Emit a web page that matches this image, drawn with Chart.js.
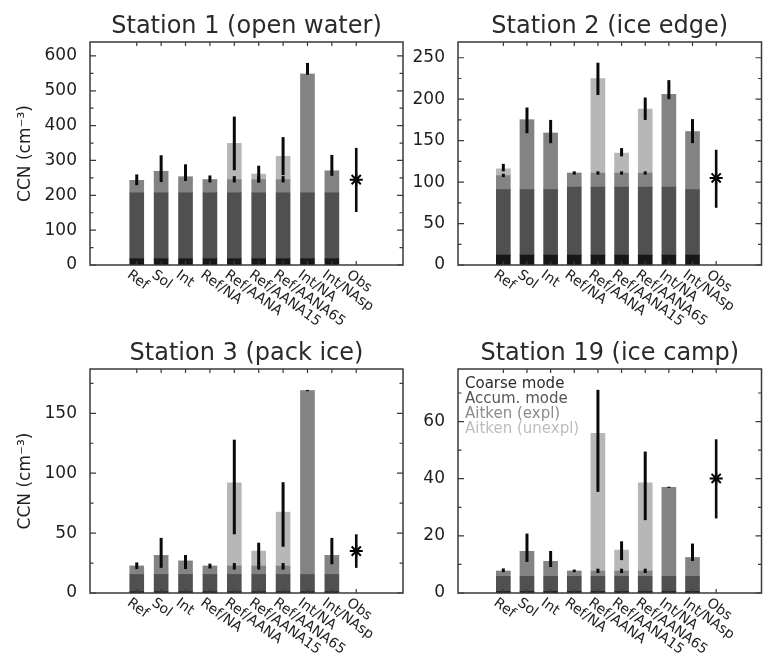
<!DOCTYPE html>
<html>
<head>
<meta charset="utf-8">
<title>CCN by station</title>
<script src="https://cdn.jsdelivr.net/npm/chart.js@4.4.1/dist/chart.umd.min.js"></script>
<style>
  body { margin: 0; background: #fff; }
  #wrap { position: relative; width: 770px; height: 658px; }
  #wrap canvas { position: absolute; left: 0; top: 0; }
</style>
</head>
<body>
<div id="wrap">
  <canvas id="st1" width="770" height="658"></canvas>
  <canvas id="st2" width="770" height="658"></canvas>
  <canvas id="st3" width="770" height="658"></canvas>
  <canvas id="st19" width="770" height="658"></canvas>
</div>
<script>
// categories along x, the last one is the observation
const categories = ['Ref', 'Sol', 'Int', 'Ref/NA', 'Ref/AANA', 'Ref/AANA15', 'Ref/AANA65', 'Int/NA', 'Int/NAsp', 'Obs'];
const modeNames = ['Coarse mode', 'Accum. mode', 'Aitken (expl)', 'Aitken (unexpl)'];

// Station 1 (open water) - segment heights, cm-3
const st1Coarse = [18, 18, 18, 18, 18, 18, 18, 18, 18];
const st1Accum = [189, 189, 189, 189, 189, 189, 189, 189, 189];
const st1AitkenExpl = [36, 62, 46, 38, 38, 38, 38, 341, 63];
const st1AitkenUnexpl = [0, 0, 0, 0, 104, 16, 67, 0, 0];
const st1ErrLow = [229, 238, 241, 237, 272, 237, 258, 546, 256];
const st1ErrHigh = [260, 315, 289, 257, 426, 285, 367, 580, 316];
const st1ExplErrLow = [null, null, null, null, 237, 237, 237, null, null];
const st1ExplErrHigh = [null, null, null, null, 255, 255, 255, null, null];
const st1Obs = 245;
const st1ObsRange = [152, 336];

// Station 2 (ice edge)
const st2Coarse = [12, 12, 12, 12, 12, 12, 12, 12, 12];
const st2Accum = [79, 79, 79, 82, 82, 82, 82, 82, 79];
const st2AitkenExpl = [17, 84, 68, 17, 17, 17, 17, 112, 70];
const st2AitkenUnexpl = [8, 0, 0, 0, 114, 24, 77, 0, 0];
const st2ErrLow = [113, 159, 147, 109, 205, 131, 175, 200, 147];
const st2ErrHigh = [122, 190, 175, 113, 244, 141, 202, 223, 176];
const st2ExplErrLow = [106, null, null, null, 109, 109, 109, null, null];
const st2ExplErrHigh = [110, null, null, null, 113, 113, 113, null, null];
const st2Obs = 105;
const st2ObsRange = [69, 139];

// Station 3 (pack ice)
const st3Coarse = [1, 1, 1, 1, 1, 1, 1, 1, 1];
const st3Accum = [14.5, 14.5, 14.5, 14.5, 14.5, 14.5, 14.5, 14.5, 14.5];
const st3AitkenExpl = [7, 15.9, 11.2, 7, 7, 7, 7, 153.5, 15.9];
const st3AitkenUnexpl = [0, 0, 0, 0, 69.5, 12.5, 45, 0, 0];
const st3ErrLow = [20, 21, 20, 20.5, 49, 24, 38.6, 168.5, 24];
const st3ErrHigh = [25.5, 46, 31.7, 24.5, 128, 42, 92.5, 169.5, 46];
const st3ExplErrLow = [null, null, null, null, 19.5, 19.5, 19.5, null, null];
const st3ExplErrHigh = [null, null, null, null, 25, 25, 25, null, null];
const st3Obs = 35;
const st3ObsRange = [21, 49];

// Station 19 (ice camp)
const st19Coarse = [0.5, 0.5, 0.5, 0.5, 0.5, 0.5, 0.5, 0.5, 0.5];
const st19Accum = [5.3, 5.3, 5.3, 5.3, 5.3, 5.3, 5.3, 5.3, 5.3];
const st19AitkenExpl = [1.9, 8.8, 5.3, 1.9, 1.9, 1.9, 1.9, 31.2, 6.6];
const st19AitkenUnexpl = [0, 0, 0, 0, 48.2, 7.3, 30.9, 0, 0];
const st19ErrLow = [7.3, 10.9, 9.1, 7.3, 35.4, 11.5, 25.5, 36.8, 11.2];
const st19ErrHigh = [8.6, 20.8, 14.7, 8.2, 71.1, 18.1, 49.5, 37.2, 17.3];
const st19ExplErrLow = [null, null, null, null, 7.0, 7.0, 7.0, null, null];
const st19ExplErrHigh = [null, null, null, null, 8.5, 8.5, 8.5, null, null];
const st19Obs = 40.1;
const st19ObsRange = [26.1, 53.8];

const modeColors = ['#171717', '#505050', '#838383', '#b7b7b7'];
const legendColors = ['#2b2b2b', '#555555', '#8c8c8c', '#bdbdbd'];
const FONT = 'DejaVu Sans';
const INK = '#1e1e1e';

const panels = [
    { id: 'st1', title: 'Station 1 (open water)', area: { left: 90, right: 403, top: 42, bottom: 265 },
      yMax: 640, step: 100, minor: 50, yTitle: true, legend: false,
      series: [st1Coarse, st1Accum, st1AitkenExpl, st1AitkenUnexpl],
      errLow: st1ErrLow, errHigh: st1ErrHigh, explLow: st1ExplErrLow, explHigh: st1ExplErrHigh,
      obs: st1Obs, obsRange: st1ObsRange },
    { id: 'st2', title: 'Station 2 (ice edge)', area: { left: 458, right: 769, top: 42, bottom: 265 },
      yMax: 269, step: 50, minor: 25, yTitle: false, legend: false,
      series: [st2Coarse, st2Accum, st2AitkenExpl, st2AitkenUnexpl],
      errLow: st2ErrLow, errHigh: st2ErrHigh, explLow: st2ExplErrLow, explHigh: st2ExplErrHigh,
      obs: st2Obs, obsRange: st2ObsRange },
    { id: 'st3', title: 'Station 3 (pack ice)', area: { left: 90, right: 403, top: 369, bottom: 593 },
      yMax: 187, step: 50, minor: 25, yTitle: true, legend: false,
      series: [st3Coarse, st3Accum, st3AitkenExpl, st3AitkenUnexpl],
      errLow: st3ErrLow, errHigh: st3ErrHigh, explLow: st3ExplErrLow, explHigh: st3ExplErrHigh,
      obs: st3Obs, obsRange: st3ObsRange },
    { id: 'st19', title: 'Station 19 (ice camp)', area: { left: 458, right: 769, top: 369, bottom: 593 },
      yMax: 78.4, step: 20, minor: 10, yTitle: false, legend: true,
      series: [st19Coarse, st19Accum, st19AitkenExpl, st19AitkenUnexpl],
      errLow: st19ErrLow, errHigh: st19ErrHigh, explLow: st19ExplErrLow, explHigh: st19ExplErrHigh,
      obs: st19Obs, obsRange: st19ObsRange }
];

function vline(ctx, x, y1, y2) {
    ctx.beginPath();
    ctx.moveTo(x, y1);
    ctx.lineTo(x, y2);
    ctx.stroke();
}

// error bars, frame, inward ticks, slanted labels, title and legend
function makeDecor(p) {
    return {
        id: 'decor_' + p.id,
        afterDatasetsDraw(chart) {
            const ctx = chart.ctx, xs = chart.scales.x, ys = chart.scales.y;
            ctx.save();
            ctx.strokeStyle = '#0a0a0a';
            ctx.lineWidth = 3;
            p.errLow.forEach((lo, i) => {
                vline(ctx, xs.getPixelForValue(i + 1), ys.getPixelForValue(lo), ys.getPixelForValue(p.errHigh[i]));
            });
            p.explLow.forEach((lo, i) => {
                if (lo === null) return;
                vline(ctx, xs.getPixelForValue(i + 1), ys.getPixelForValue(lo), ys.getPixelForValue(p.explHigh[i]));
            });
            ctx.lineWidth = 2.6;
            vline(ctx, xs.getPixelForValue(10), ys.getPixelForValue(p.obsRange[0]), ys.getPixelForValue(p.obsRange[1]));
            ctx.restore();
        },
        afterDraw(chart) {
            const ctx = chart.ctx, xs = chart.scales.x, ys = chart.scales.y;
            const a = chart.chartArea;
            ctx.save();
            ctx.strokeStyle = '#3a3a3a';
            ctx.lineWidth = 1.5;
            ctx.strokeRect(a.left, a.top, a.right - a.left, a.bottom - a.top);

            ctx.lineWidth = 1.2;
            for (let v = 0; v <= p.yMax + 1e-6; v += p.minor) {
                const py = ys.getPixelForValue(v);
                const len = (Math.abs(v / p.step - Math.round(v / p.step)) < 1e-6) ? 6 : 3.5;
                ctx.beginPath();
                ctx.moveTo(a.left, py); ctx.lineTo(a.left + len, py);
                ctx.moveTo(a.right, py); ctx.lineTo(a.right - len, py);
                ctx.stroke();
            }
            categories.forEach((c, i) => {
                const px = xs.getPixelForValue(i + 1);
                ctx.beginPath();
                ctx.moveTo(px, a.top); ctx.lineTo(px, a.top + 4);
                ctx.moveTo(px, a.bottom); ctx.lineTo(px, a.bottom - 4);
                ctx.stroke();
            });

            // slanted category labels
            ctx.fillStyle = INK;
            ctx.font = '14px "' + FONT + '"';
            ctx.textAlign = 'left';
            ctx.textBaseline = 'top';
            categories.forEach((c, i) => {
                const px = xs.getPixelForValue(i + 1);
                ctx.save();
                ctx.translate(px - 4, a.bottom + 3);
                ctx.rotate(36 * Math.PI / 180);
                ctx.fillText(c, 0, 0);
                ctx.restore();
            });

            // panel title
            ctx.font = '24px "' + FONT + '"';
            ctx.textAlign = 'center';
            ctx.textBaseline = 'alphabetic';
            ctx.fillStyle = '#2a2a2a';
            ctx.fillText(p.title, (a.left + a.right) / 2, a.top - 9);

            if (p.legend) {
                ctx.font = '15px "' + FONT + '"';
                ctx.textAlign = 'left';
                ctx.textBaseline = 'alphabetic';
                modeNames.forEach((m, i) => {
                    ctx.fillStyle = legendColors[i];
                    ctx.fillText(m, a.left + 7, a.top + 19 + i * 15);
                });
            }
            ctx.restore();
        }
    };
}

function drawPanel(p) {
    const axisWidth = p.yTitle ? 90 : 60;
    const datasets = p.series.map((vals, k) => ({
        label: modeNames[k],
        data: vals.map((v, i) => ({ x: i + 1, y: v })),
        backgroundColor: modeColors[k],
        borderWidth: 0,
        barThickness: 14
    }));
    datasets.push({
        type: 'scatter',
        label: 'Obs',
        data: [{ x: 10, y: p.obs }],
        pointStyle: 'star',
        pointRadius: 6.5,
        borderColor: '#000',
        backgroundColor: '#000',
        borderWidth: 2
    });

    new Chart(document.getElementById(p.id), {
        type: 'bar',
        data: { datasets: datasets },
        options: {
            responsive: false,
            animation: false,
            events: [],
            layout: {
                padding: {
                    left: p.area.left - axisWidth,
                    right: 770 - p.area.right,
                    top: p.area.top,
                    bottom: 658 - p.area.bottom
                }
            },
            plugins: {
                legend: { display: false },
                tooltip: { enabled: false }
            },
            scales: {
                x: { type: 'linear', min: 0, max: 11, stacked: true, display: false },
                y: {
                    stacked: true,
                    min: 0,
                    max: p.yMax,
                    afterFit(scale) { scale.width = axisWidth; },
                    grid: { display: false },
                    border: { display: false },
                    ticks: {
                        stepSize: p.step,
                        includeBounds: false,
                        padding: 5,
                        color: INK,
                        font: { family: FONT, size: 17 }
                    },
                    title: {
                        display: p.yTitle,
                        text: 'CCN (cm\u207B\u00B3)',
                        color: INK,
                        font: { family: FONT, size: 17 },
                        padding: { top: 15, bottom: 0 }
                    }
                }
            }
        },
        plugins: [makeDecor(p)]
    });
}

panels.forEach(drawPanel);
</script>
</body>
</html>
